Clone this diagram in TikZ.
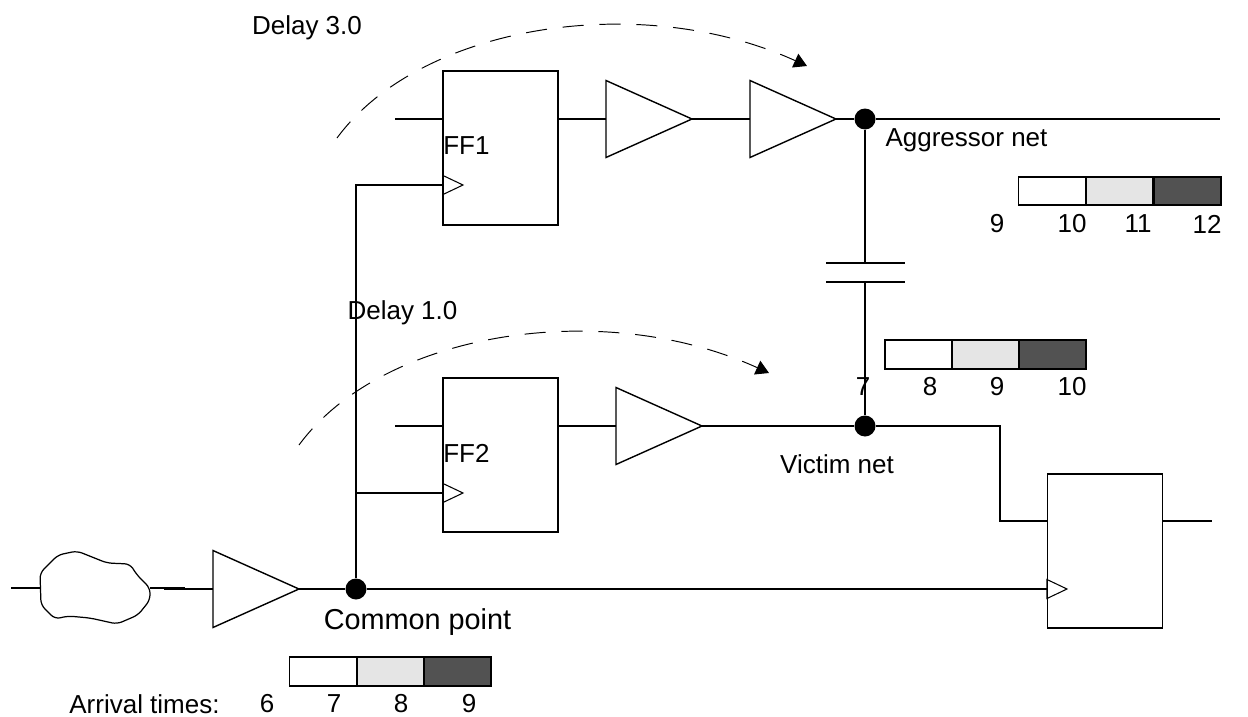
\documentclass[tikz,border=0pt]{standalone}
\usepackage{fontspec}
\setmainfont{Liberation Sans}
\usetikzlibrary{arrows.meta, shapes.geometric}

\begin{document}
\begin{tikzpicture}[
    x=0.02cm, y=-0.02cm,
    wire/.style={line width=1.1pt},
    flop/.style={rectangle, draw=black, line width=1.1pt, inner sep=0pt, outer sep=0pt,
                 minimum width=2.3cm, minimum height=3.08cm},
    buffer/.style={isosceles triangle, isosceles triangle stretches, draw=black, line width=0.8pt,
                   inner sep=0pt, outer sep=0pt, anchor=lower side,
                   minimum width=1.54cm, minimum height=1.72cm},
    clock/.style={isosceles triangle, isosceles triangle stretches, draw=black, line width=0.6pt,
                  inner sep=0pt, outer sep=0pt, anchor=lower side,
                  minimum width=0.38cm, minimum height=0.4cm},
    dot/.style={circle, fill=black, inner sep=0pt, minimum size=0.42cm},
    cell/.style={rectangle, draw=black, line width=1.1pt, inner sep=0pt, outer sep=0pt,
                 minimum width=1.34cm, minimum height=0.57cm},
    low/.style={cell, fill=white},
    mid/.style={cell, fill=black!10},
    high/.style={cell, fill=black!68},
    label/.style={inner sep=0pt, font=\fontsize{14.8pt}{17pt}\selectfont},
    delay/.style={dashed, dash pattern=on 12pt off 9pt, line width=0.55pt,
                  -{Triangle[length=7.4pt, width=8.5pt]}}
  ]
    \useasboundingbox (0,0) rectangle (1248,717);

    % Flip-flops
    \node[flop] (ff1) at (500.5, 148) {};
    \node[flop] (ff2) at (500.5, 455) {};
    \node[flop] (ff3) at (1105, 551) {};
    \node[label, anchor=west] (ff1label) at (443, 146) {FF1};
    \node[label, anchor=west] (ff2label) at (443, 453) {FF2};

    % Clock pins
    \node[clock] (clk1) at (443, 185) {};
    \node[clock] (clk2) at (443, 493) {};
    \node[clock] (clk3) at (1047, 589) {};

    % Buffers
    \node[buffer] (buf0) at (213, 589) {};
    \node[buffer] (buf1) at (606, 119) {};
    \node[buffer] (buf2) at (750, 119) {};
    \node[buffer] (buf3) at (616, 426) {};

    % Junctions
    \node[dot] (common) at (356, 589) {};
    \node[dot] (aggr) at (865, 119) {};
    \node[dot] (vict) at (865, 426) {};

    % Logic cloud
    \draw[line width=0.7pt, rounded corners=3pt]
      (40,573) -- (58,555) -- (77,551) -- (107,563) -- (130,564) -- (137,575) -- (150,588)
      -- (150,600) -- (138,615) -- (117,624) -- (90,618) -- (68,616) -- (55,619) -- (41,605) -- cycle;
    \coordinate (cloudin) at (40, 588);
    \coordinate (cloudout) at (150, 588);
    \coordinate (start) at (11, 588);
    \draw[wire] (start) -- (cloudin);
    \draw[wire] (cloudout) -- (185, 588);
    \draw[wire] (164, 589) -- (buf0.lower side);

    % Clock tree
    \draw[wire] (buf0.apex) -- (common);
    \draw[wire] (common) -- (clk3.lower side);
    \draw[wire] (common) |- (clk1.lower side);
    \draw[wire] (common |- clk2.lower side) -- (clk2.lower side);

    % Aggressor path
    \coordinate (d1) at (395, 119);
    \coordinate (aggrend) at (1220, 119);
    \draw[wire] (d1) -- (ff1.west |- d1);
    \draw[wire] (ff1.east |- buf1.lower side) -- (buf1.lower side);
    \draw[wire] (buf1.apex) -- (buf2.lower side);
    \draw[wire] (buf2.apex) -- (aggr);
    \draw[wire] (aggr) -- (aggrend);

    % Victim path
    \coordinate (d2) at (395, 426);
    \coordinate (bend) at (1000, 426);
    \coordinate (q3) at (1212, 521);
    \draw[wire] (d2) -- (ff2.west |- d2);
    \draw[wire] (ff2.east |- buf3.lower side) -- (buf3.lower side);
    \draw[wire] (buf3.apex) -- (vict);
    \draw[wire] (vict) -- (bend) |- (ff3.west |- q3);
    \draw[wire] (ff3.east |- q3) -- (q3);

    % Coupling capacitor
    \coordinate (platel) at (826, 263);
    \coordinate (plater) at (905, 263);
    \coordinate (plate2l) at (826, 282);
    \coordinate (plate2r) at (905, 282);
    \draw[wire] (platel) -- (plater);
    \draw[wire] (plate2l) -- (plate2r);
    \draw[wire] (aggr) -- (aggr |- platel);
    \draw[wire] (vict |- plate2l) -- (vict);

    % Delay arcs
    \coordinate (arc1a) at (337, 138);
    \coordinate (arc1b) at (807, 66);
    \coordinate (arc2a) at (299, 445);
    \coordinate (arc2b) at (769, 373);
    \draw[delay] (arc1a) .. controls (420, 25) and (640, -10) .. (arc1b);
    \draw[delay] (arc2a) .. controls (382, 332) and (602, 297) .. (arc2b);

    % Timing windows
    \node[low] (a1) at (1052, 191) {};
    \node[mid] (a2) at (1119.5, 191) {};
    \node[high] (a3) at (1187.5, 191) {};
    \node[low] (v1) at (918.5, 354.5) {};
    \node[mid] (v2) at (985.5, 354.5) {};
    \node[high] (v3) at (1052.5, 354.5) {};
    \node[low] (c1) at (323, 671.5) {};
    \node[mid] (c2) at (390.5, 671.5) {};
    \node[high] (c3) at (457.5, 671.5) {};

    % Labels
    \node[label] (delay3) at (307, 28) {Delay 3.0};
    \node[label] (delay1) at (402.5, 313) {Delay 1.0};
    \node[label] (aggrlabel) at (966.5, 140) {Aggressor net};
    \node[label] (victlabel) at (837, 464) {Victim net};
    \node[label, font=\fontsize{16.4pt}{19pt}\selectfont] (commonlabel) at (417.5, 622) {Common point};
    \node[label] (arrival) at (144.5, 704) {Arrival times:};

    \node[label] (t6) at (267, 704) {6};
    \node[label] (t7) at (334, 704) {7};
    \node[label] (t8) at (401, 704) {8};
    \node[label] (t9) at (469, 704) {9};

    \node[label] (u7) at (863, 387) {7};
    \node[label] (u8) at (930, 387) {8};
    \node[label] (u9) at (997, 387) {9};
    \node[label] (u10) at (1072, 387) {10};

    \node[label] (w9) at (997, 224) {9};
    \node[label] (w10) at (1072, 224) {10};
    \node[label] (w11) at (1138, 224) {11};
    \node[label] (w12) at (1207, 224) {12};

  \end{tikzpicture}
\end{document}
